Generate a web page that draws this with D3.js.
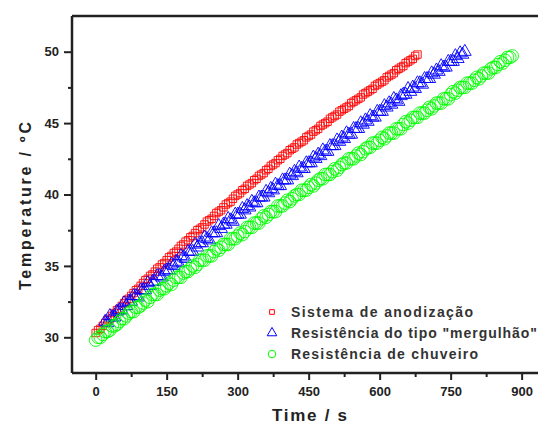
<!DOCTYPE html>
<html>
<head>
<meta charset="utf-8">
<script src="https://cdn.jsdelivr.net/npm/d3@7"></script>
<style>
  body { margin: 0; background: #fff; }
  text { font-family: "Liberation Sans", Arial, sans-serif; }
</style>
</head>
<body>
<script>
var w = 538;
var h = 433;

// readings were logged every 5 s
var sampleStep = 5;

var seriesNames = ["Sistema de anodização", "Resistência do tipo \"mergulhão\"", "Resistência de chuveiro"];
var seriesStart = [0, 20, 0];

var redTemps = [
  30.3, 30.5, 30.6, 30.8, 31.0, 31.2, 31.3, 31.5, 31.7, 31.9,
  32.0, 32.2, 32.4, 32.6, 32.7, 32.9, 33.1, 33.3, 33.4, 33.6,
  33.8, 34.0, 34.1, 34.3, 34.4, 34.6, 34.8, 34.9, 35.1, 35.2,
  35.4, 35.6, 35.7, 35.9, 36.0, 36.2, 36.4, 36.5, 36.7, 36.8,
  37.0, 37.1, 37.3, 37.5, 37.6, 37.7, 37.9, 38.1, 38.2, 38.3,
  38.5, 38.7, 38.8, 38.9, 39.1, 39.3, 39.4, 39.5, 39.7, 39.9,
  40.0, 40.1, 40.3, 40.4, 40.6, 40.7, 40.8, 41.0, 41.1, 41.3,
  41.4, 41.5, 41.7, 41.8, 42.0, 42.1, 42.2, 42.4, 42.5, 42.7,
  42.8, 42.9, 43.1, 43.2, 43.3, 43.5, 43.6, 43.7, 43.8, 44.0,
  44.1, 44.2, 44.4, 44.5, 44.6, 44.8, 44.9, 45.0, 45.1, 45.3,
  45.4, 45.5, 45.6, 45.8, 45.9, 46.0, 46.1, 46.2, 46.4, 46.5,
  46.6, 46.7, 46.8, 47.0, 47.1, 47.2, 47.3, 47.4, 47.6, 47.7,
  47.8, 47.9, 48.0, 48.2, 48.3, 48.4, 48.5, 48.7, 48.8, 48.9,
  49.0, 49.2, 49.3, 49.4, 49.5, 49.7, 49.8];

var blueTemps = [
  31.1, 31.0, 31.5, 31.4, 31.4, 31.8, 31.9, 31.9, 32.4, 32.2,
  32.5, 32.5, 32.9, 32.9, 32.8, 33.3, 33.3, 33.3, 33.8, 33.6,
  33.9, 33.9, 34.3, 34.3, 34.2, 34.6, 34.7, 34.7, 35.1, 35.0,
  35.3, 35.2, 35.7, 35.6, 35.5, 36.0, 36.0, 36.0, 36.5, 36.3,
  36.6, 36.6, 37.0, 36.9, 36.8, 37.3, 37.3, 37.3, 37.8, 37.6,
  37.9, 37.9, 38.3, 38.2, 38.1, 38.6, 38.6, 38.6, 39.0, 38.9,
  39.2, 39.1, 39.5, 39.4, 39.4, 39.8, 39.8, 39.8, 40.2, 40.1,
  40.4, 40.3, 40.7, 40.6, 40.6, 41.0, 41.0, 41.0, 41.4, 41.3,
  41.6, 41.5, 41.9, 41.8, 41.8, 42.2, 42.2, 42.2, 42.6, 42.5,
  42.8, 42.7, 43.1, 43.0, 43.0, 43.4, 43.4, 43.4, 43.8, 43.7,
  44.0, 43.9, 44.3, 44.2, 44.2, 44.6, 44.6, 44.6, 45.0, 44.9,
  45.2, 45.1, 45.5, 45.4, 45.4, 45.8, 45.8, 45.8, 46.2, 46.1,
  46.4, 46.3, 46.7, 46.6, 46.5, 46.9, 47.0, 47.0, 47.4, 47.2,
  47.5, 47.4, 47.8, 47.8, 47.7, 48.1, 48.1, 48.1, 48.5, 48.4,
  48.7, 48.6, 49.0, 48.9, 48.9, 49.3, 49.3, 49.3, 49.7, 49.5,
  49.9, 49.8, 50.0];

var greenTemps = [
  29.8, 30.0, 30.0, 30.2, 30.4, 30.4, 30.5, 30.8, 30.8, 30.9,
  31.1, 31.3, 31.3, 31.5, 31.7, 31.8, 31.8, 32.1, 32.1, 32.2,
  32.4, 32.6, 32.5, 32.8, 33.0, 33.0, 33.0, 33.3, 33.4, 33.4,
  33.6, 33.8, 33.7, 34.0, 34.2, 34.2, 34.2, 34.5, 34.6, 34.6,
  34.8, 35.0, 34.9, 35.1, 35.4, 35.4, 35.4, 35.7, 35.7, 35.7,
  36.0, 36.2, 36.1, 36.3, 36.5, 36.5, 36.5, 36.9, 36.9, 36.9,
  37.1, 37.3, 37.2, 37.4, 37.7, 37.7, 37.7, 38.0, 38.0, 38.0,
  38.3, 38.5, 38.4, 38.6, 38.8, 38.8, 38.8, 39.2, 39.2, 39.2,
  39.4, 39.6, 39.5, 39.7, 39.9, 40.0, 40.0, 40.3, 40.3, 40.3,
  40.5, 40.7, 40.6, 40.8, 41.0, 41.1, 41.1, 41.4, 41.4, 41.4,
  41.6, 41.8, 41.7, 41.9, 42.1, 42.2, 42.2, 42.5, 42.5, 42.5,
  42.7, 42.9, 42.8, 43.0, 43.2, 43.3, 43.3, 43.6, 43.6, 43.6,
  43.8, 44.0, 43.9, 44.1, 44.3, 44.3, 44.3, 44.6, 44.6, 44.6,
  44.9, 45.1, 45.0, 45.2, 45.4, 45.4, 45.4, 45.7, 45.7, 45.7,
  45.9, 46.1, 46.0, 46.2, 46.4, 46.4, 46.4, 46.7, 46.7, 46.7,
  47.0, 47.2, 47.1, 47.3, 47.5, 47.5, 47.5, 47.8, 47.8, 47.8,
  48.0, 48.2, 48.1, 48.3, 48.5, 48.5, 48.5, 48.8, 48.9, 48.9,
  49.1, 49.3, 49.2, 49.4, 49.6, 49.6, 49.7];

var xTicks = [0, 150, 300, 450, 600, 750, 900];
var xMinor = [75, 225, 375, 525, 675, 825];
var yTicks = [30, 35, 40, 45, 50];
var yMinor = [32.5, 37.5, 42.5, 47.5];

var colors = ["#ff0000", "#0000ff", "#00ff00"];
var symbols = [d3.symbolSquare, d3.symbolTriangle, d3.symbolCircle];
var symSizes = [55, 70, 125];

var svg = d3.select("body").append("svg")
  .attr("width", w)
  .attr("height", h);

var x = d3.scaleLinear().domain([-50, 950]).range([72, 545.3]);
var y = d3.scaleLinear().domain([27.5, 52.5]).range([373, 16]);

var axisColor = "#222";

// data
[redTemps, blueTemps, greenTemps].forEach(function(vals, s) {
  var pts = vals.map(function(v, i) { return [seriesStart[s] + i * sampleStep, v]; });
  svg.append("g").selectAll("path")
    .data(pts)
    .enter()
    .append("path")
      .attr("d", d3.symbol().type(symbols[s]).size(symSizes[s]))
      .attr("transform", function(d) { return "translate(" + x(d[0]) + "," + y(d[1]) + ")"; })
      .attr("fill", "none")
      .attr("stroke", colors[s])
      .attr("stroke-width", 0.9);
});

// axes
var xAxis = svg.append("g")
  .attr("transform", "translate(0," + 373 + ")")
  .call(d3.axisBottom(x).tickValues(xTicks).tickSize(7).tickPadding(7));
var xAxisMinor = svg.append("g")
  .attr("transform", "translate(0," + 373 + ")")
  .call(d3.axisBottom(x).tickValues(xMinor).tickSize(4).tickFormat(""));
var yAxis = svg.append("g")
  .attr("transform", "translate(72,0)")
  .call(d3.axisLeft(y).tickValues(yTicks).tickSize(8).tickPadding(5));
var yAxisMinor = svg.append("g")
  .attr("transform", "translate(72,0)")
  .call(d3.axisLeft(y).tickValues(yMinor).tickSize(4).tickFormat(""));

[xAxis, xAxisMinor, yAxis, yAxisMinor].forEach(function(g) {
  g.select(".domain").remove();
  g.selectAll("line").attr("stroke", axisColor).attr("stroke-width", 2);
  g.selectAll("text")
    .attr("fill", axisColor)
    .attr("font-size", 13)
    .attr("font-weight", "bold")
    .attr("font-family", "Liberation Sans, Arial, sans-serif");
});

// frame lines
svg.append("line").attr("x1", 72).attr("x2", w).attr("y1", 373).attr("y2", 373)
  .attr("stroke", axisColor).attr("stroke-width", 2.5);
svg.append("line").attr("x1", 72).attr("x2", w).attr("y1", 16).attr("y2", 16)
  .attr("stroke", axisColor).attr("stroke-width", 2.5);
svg.append("line").attr("x1", 72).attr("x2", 72).attr("y1", 16).attr("y2", 373)
  .attr("stroke", axisColor).attr("stroke-width", 2.5);

// axis titles
svg.append("text")
  .text("Time / s")
  .attr("x", 272)
  .attr("y", 421)
  .attr("font-size", 17)
  .attr("font-weight", "bold")
  .attr("textLength", 75)
  .attr("lengthAdjust", "spacing")
  .attr("fill", axisColor);

svg.append("text")
  .text("Temperature / ºC")
  .attr("transform", "translate(31,290) rotate(-90)")
  .attr("font-size", 16)
  .attr("font-weight", "bold")
  .attr("textLength", 168)
  .attr("lengthAdjust", "spacing")
  .attr("fill", axisColor);

// legend
var legendY = [312, 333, 354];
var legendLen = [182, 246, 187];
seriesNames.forEach(function(name, s) {
  svg.append("path")
    .attr("d", d3.symbol().type(symbols[s]).size([22, 40, 45][s]))
    .attr("transform", "translate(272," + legendY[s] + ")")
    .attr("fill", "none")
    .attr("stroke", colors[s])
    .attr("stroke-width", 1);
  svg.append("text")
    .text(name)
    .attr("x", 291)
    .attr("y", legendY[s] + 5)
    .attr("font-size", 14)
    .attr("font-weight", "bold")
    .attr("textLength", legendLen[s])
    .attr("lengthAdjust", "spacing")
    .attr("fill", "#333");
});
</script>
</body>
</html>
